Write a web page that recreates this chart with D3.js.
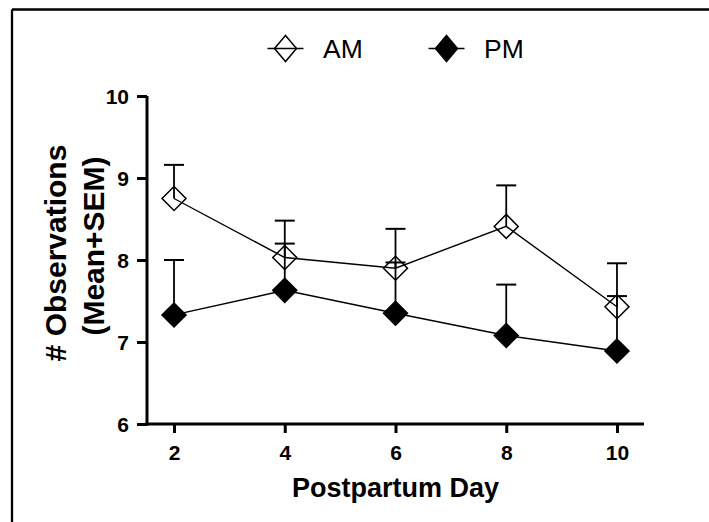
<!DOCTYPE html>
<html>
<head>
<meta charset="utf-8">
<script src="https://cdn.jsdelivr.net/npm/d3@7"></script>
<style>
  html, body { margin: 0; padding: 0; background: #fff; }
  svg { display: block; }
  text { font-family: "Liberation Sans", Arial, Helvetica, sans-serif; fill: #000; }
</style>
</head>
<body>
<svg id="chart" width="709" height="522"></svg>
<script>
// ---- data ----
const days = [2, 4, 6, 8, 10];
const amMean = [8.75, 8.03, 7.90, 8.41, 7.43];
const amSem  = [0.41, 0.45, 0.48, 0.50, 0.53];
const pmMean = [7.33, 7.63, 7.35, 7.08, 6.89];
const pmSem  = [0.67, 0.57, 0.62, 0.62, 0.67];
const xTicks = [2, 4, 6, 8, 10];
const yTicks = [6, 7, 8, 9, 10];
const seriesNames = ["AM", "PM"];
const xTitle = "Postpartum Day";
const yTitle = ["# Observations", "(Mean+SEM)"];

// ---- layout ----
const svg = d3.select("#chart");
const x = d3.scaleLinear().domain([1.512, 10.488]).range([147, 644]);
const y = d3.scaleLinear().domain([6, 10]).range([424, 96]);

// outer frame (only top & left visible)
svg.append("line").attr("x1", 12).attr("y1", 9.5).attr("x2", 720).attr("y2", 9.5)
  .attr("stroke", "#000").attr("stroke-width", 2.3);
svg.append("line").attr("x1", 12).attr("y1", 9.5).attr("x2", 12).attr("y2", 530)
  .attr("stroke", "#000").attr("stroke-width", 2.3);

// axes
const xAxis = svg.append("g").attr("transform", `translate(0,${y(6)})`)
  .call(d3.axisBottom(x).tickValues(xTicks).tickFormat(d3.format("d"))
    .tickSize(9).tickPadding(12).tickSizeOuter(0));
const yAxis = svg.append("g").attr("transform", `translate(${x.range()[0]},0)`)
  .call(d3.axisLeft(y).tickValues(yTicks).tickFormat(d3.format("d"))
    .tickSize(10).tickPadding(8).tickSizeOuter(0));

[xAxis, yAxis].forEach(g => {
  g.select(".domain").attr("stroke", "#000").attr("stroke-width", 3);
  g.selectAll(".tick line").attr("stroke", "#000").attr("stroke-width", 3);
  g.selectAll(".tick text").attr("font-size", 21).attr("font-weight", "bold")
    .attr("font-family", '"Liberation Sans", Arial, sans-serif').attr("fill", "#000");
});
xAxis.select(".domain").attr("d", `M${x.range()[0] - 1.5},0H${x.range()[1]}`);
yAxis.select(".domain").attr("d", `M0,${y.range()[1]}V${y.range()[0] + 1.5}`);
yAxis.selectAll(".tick text").attr("dy", "0.36em");

// axis titles
svg.append("text").attr("x", (x.range()[0] + x.range()[1]) / 2).attr("y", 497)
  .attr("text-anchor", "middle").attr("font-size", 27).attr("font-weight", "bold")
  .text(xTitle);
svg.append("text").attr("transform", "translate(66,253) rotate(-90)")
  .attr("text-anchor", "middle").attr("font-size", 30).attr("font-weight", "bold")
  .text(yTitle[0]);
svg.append("text").attr("transform", "translate(104,246) rotate(-90)")
  .attr("text-anchor", "middle").attr("font-size", 30).attr("font-weight", "bold")
  .text(yTitle[1]);

// data
const series = [
  { name: seriesNames[0], mean: amMean, sem: amSem, fill: "none" },
  { name: seriesNames[1], mean: pmMean, sem: pmSem, fill: "#000" }
];
const line = d3.line().x(d => x(d.day)).y(d => y(d.mean));
const diamond = d3.symbol().type(d3.symbolSquare).size(288);

series.forEach(s => {
  const pts = days.map((d, i) => ({ day: d, mean: s.mean[i], sem: s.sem[i] }));
  const g = svg.append("g");
  g.append("path").datum(pts).attr("d", line)
    .attr("fill", "none").attr("stroke", "#000").attr("stroke-width", 1.4);
  g.selectAll(".stem").data(pts).enter().append("line")
    .attr("x1", d => x(d.day)).attr("x2", d => x(d.day))
    .attr("y1", d => y(d.mean)).attr("y2", d => y(d.mean + d.sem))
    .attr("stroke", "#000").attr("stroke-width", 1.8);
  g.selectAll(".cap").data(pts).enter().append("line")
    .attr("x1", d => x(d.day) - 10).attr("x2", d => x(d.day) + 10)
    .attr("y1", d => y(d.mean + d.sem)).attr("y2", d => y(d.mean + d.sem))
    .attr("stroke", "#000").attr("stroke-width", 2);
  s.g = g; s.pts = pts;
});
series.forEach(s => {
  s.g.selectAll(".mk").data(s.pts).enter().append("path")
    .attr("d", diamond)
    .attr("transform", d => `translate(${x(d.day)},${y(d.mean)}) rotate(45)`)
    .attr("fill", s.fill).attr("stroke", "#000").attr("stroke-width", 1.5);
});

// legend
const legendX = [285.5, 446.5];
const legendY = 48.5;
series.forEach((s, i) => {
  const cx = legendX[i];
  const lg = svg.append("g");
  lg.append("line").attr("x1", cx - 18).attr("x2", cx + 18)
    .attr("y1", legendY).attr("y2", legendY)
    .attr("stroke", "#000").attr("stroke-width", 1.4);
  lg.append("path")
    .attr("d", `M${cx},${legendY - 13}L${cx + 11},${legendY}L${cx},${legendY + 13}L${cx - 11},${legendY}Z`)
    .attr("fill", s.fill).attr("stroke", "#000").attr("stroke-width", 1.5);
  lg.append("text").attr("x", cx + 37.5).attr("y", 57.5)
    .attr("font-size", 26.5).text(s.name);
});
</script>
</body>
</html>
